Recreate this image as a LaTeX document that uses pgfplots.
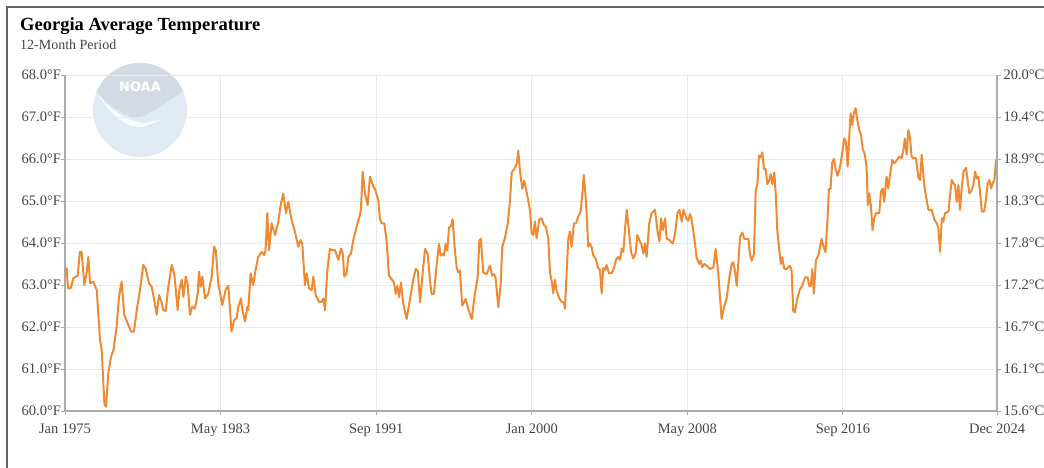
\documentclass[border=0pt]{standalone}
\usepackage{fontspec}
\setmainfont{Liberation Serif}
\newfontfamily\logofont{DejaVu Sans}
\usepackage{pgfplots}
\pgfplotsset{compat=1.18}
\usepackage{pgfplotstable}

\definecolor{lineorange}{RGB}{240,138,50}
\definecolor{gridgray}{RGB}{232,232,232}
\definecolor{axisgray}{RGB}{170,170,170}
\definecolor{labelgray}{RGB}{68,68,68}
\definecolor{bordergray}{RGB}{100,100,100}
\definecolor{logoblue}{RGB}{224,234,245}
\definecolor{logogray}{RGB}{212,218,228}

% month index since Jan 1975, 12-month average temperature (F)
\pgfplotstableread{
m t
0 63.20
1 63.40
2 62.92
3.6 62.92
5.4 63.16
6.9 63.20
8.1 63.21
9.6 63.79
10.7 63.79
12.4 63.00
13.9 63.28
15 63.67
16.1 63.04
18.2 63.08
20.4 62.88
22.5 61.69
23.6 61.45
25.3 60.18
26.4 60.10
27.8 60.90
29.6 61.29
31.1 61.45
33.2 62.01
34.7 62.72
36.4 63.08
38.1 62.29
40.3 62.09
42.4 61.89
44.3 61.89
46.1 62.40
48.2 62.88
50.3 63.48
51.8 63.40
54 63.04
55.7 62.96
57.2 62.68
58.9 62.29
60.4 62.76
61.7 62.64
63.2 62.40
64.7 62.38
66.4 62.96
68.6 63.48
70.3 63.24
72.4 62.40
73.5 62.88
75 63.12
76.1 62.72
77.6 63.20
78.8 63.04
80.3 62.29
81.8 62.48
83.5 62.44
85.3 62.80
86.1 63.32
87.2 62.96
88.3 63.20
90 62.68
92.1 62.80
94.3 63.20
95.8 63.91
96.9 63.83
98.5 63.04
101.1 62.52
103.2 62.88
105 62.98
107 61.89
108.8 62.17
110.3 62.21
111.4 62.48
113.1 62.68
114 62.40
115.7 62.13
117.2 62.48
117.8 62.40
119.3 63.28
121 63.00
122.5 63.36
124.2 63.67
126.4 63.79
128.1 63.71
128.9 63.83
130 64.71
131.1 63.83
132.8 64.47
135 64.19
137.1 64.51
138.6 64.90
140.3 65.18
142 64.71
143.5 64.98
145.6 64.55
147.8 64.27
149.9 63.91
151.4 64.07
152.5 63.99
154.2 63.00
155.3 63.28
156.8 62.92
158.5 62.88
159.6 63.20
161.1 62.76
163.2 62.60
164.9 62.60
166 62.68
167.1 62.40
168.6 63.36
170.3 63.87
171.4 63.83
173.5 63.83
175.7 63.60
177.4 63.87
178.5 63.75
179.5 63.20
181 63.28
182.1 63.67
183.8 63.75
185.3 64.07
187.4 64.39
189.6 64.67
190.2 64.79
191.3 65.70
192.8 65.18
194.5 64.90
196 65.58
198.2 65.34
199.2 65.29
201.4 65.01
202.4 64.57
203.5 64.47
205.2 64.47
206.7 64.06
208.2 63.22
209.9 63.14
211.4 63.06
212.5 62.79
213.6 62.98
214.7 62.71
215.9 63.06
217.4 62.55
219.6 62.19
221.7 62.67
223.9 63.14
225.4 63.38
226.7 63.34
228.2 62.59
229.9 63.30
231.4 63.86
233.1 63.74
234.6 63.10
235.6 62.79
237.1 62.79
238.9 63.50
240.4 63.98
241.4 63.70
242.7 63.74
243.6 63.70
244.6 63.98
245.7 63.82
246.8 64.37
248.1 64.41
249.1 64.57
250.6 63.82
251.7 63.42
252.8 63.30
253.8 63.34
255.3 62.51
257.5 62.67
259.2 62.43
261.4 62.19
263.1 62.71
265.2 63.18
266.3 64.06
267.3 64.10
268.8 63.30
271 63.26
273.1 63.46
274.6 63.22
275.7 63.26
276.7 63.18
278.5 62.47
280 63.02
281 63.90
282.8 64.13
284.5 64.45
286 65.01
287.1 65.68
288.8 65.76
290.3 65.88
291.3 66.20
292.4 65.72
293.9 65.29
295.2 65.48
296.7 65.21
298.9 64.77
299.9 64.23
301 64.19
302 64.51
303.1 64.11
304.8 64.56
306.3 64.59
307.8 64.43
309.1 64.39
310.6 64.11
311.7 63.28
312.7 63.12
313.8 62.80
314.9 63.12
315.9 62.88
317.7 62.68
319.2 62.60
320.7 62.58
321.3 62.44
322.4 63.28
323.4 64.07
324.5 64.27
325.6 63.91
327.1 64.47
328.4 64.47
329.9 64.63
331.4 64.75
332.7 65.26
333.4 65.62
334.8 65.02
336.3 63.91
337.3 63.99
338.4 63.91
339.5 63.71
341 63.63
342.7 63.40
343.8 63.36
344.9 62.80
345.9 63.40
347 63.36
348.1 63.48
349.6 63.28
351.3 63.28
352.8 63.40
354.1 63.60
355.6 63.67
356.7 63.60
357.8 63.87
358.8 63.79
359.9 64.31
361 64.79
362.5 64.27
363.8 63.79
365.2 63.63
366.7 63.75
367.8 64.19
369.1 64.07
370.6 63.95
371.7 63.75
372.7 63.99
373.8 63.67
375.5 64.47
377 64.71
379.2 64.79
380.7 64.31
382 64.03
383.1 64.59
384.2 64.31
385.7 64.59
386.7 64.11
388.4 64.07
390.6 63.99
392.1 64.23
393.6 64.71
394.9 64.79
396.4 64.51
397.5 64.79
399.5 64.57
400.6 64.53
401.7 64.69
402.7 64.57
403.8 64.29
404.9 63.98
405.9 63.66
407.5 63.50
408.5 63.58
409.6 63.42
410.9 63.50
412.4 63.46
414.5 63.38
416.7 63.42
418.2 63.86
419.9 63.26
422 62.19
423.8 62.51
425.2 62.67
427 63.18
428.5 63.50
429.5 63.54
430.6 63.34
431.7 62.98
432.7 63.50
433.8 64.13
435.3 64.25
436.6 64.10
439.2 64.10
440.2 63.74
441.3 63.58
442.8 63.74
443.9 65.25
445 65.40
446 66.08
447.1 66.04
448.2 66.16
449.2 65.76
450.3 65.76
451.4 65.40
452.5 65.48
453.5 65.64
454.6 65.40
455.9 65.68
456.9 65.09
457.8 64.29
459.1 63.82
460.1 63.50
461 63.66
462.3 63.38
463.8 63.38
465.9 63.46
467 63.34
468 62.39
469.1 62.35
470.6 62.67
472.3 62.90
473.8 62.98
475.6 63.18
477.3 63.18
478.3 62.98
479.4 62.98
480.3 63.38
481.3 62.79
482.6 63.58
484.1 63.70
485.2 63.90
486.3 64.10
487.3 63.94
488.8 63.78
490.1 64.61
491 65.29
492 65.29
493.1 65.92
494.2 66.00
495.3 65.76
496.5 65.60
498 65.78
499.8 66.21
500.9 66.49
501.9 66.41
503 65.82
504.1 66.57
504.9 67.09
506 66.81
507 67.09
508.1 67.21
509.2 66.93
510.5 66.69
511.6 66.57
512.6 66.25
514.1 66.10
515.2 65.78
516 64.90
516.9 65.18
518 64.87
519 64.31
520.1 64.59
521.2 64.71
523.3 64.71
524.4 65.22
525.5 65.30
526.5 64.98
528 65.58
529.1 65.30
530.2 65.62
531.7 65.98
533 65.90
534 65.94
535.5 66.02
536.6 66.06
537.7 66.02
538.8 66.21
539.8 66.49
540.9 66.10
542 66.69
543 66.53
544.1 66.06
545.2 66.02
546.9 66.02
548.4 65.58
549.5 65.50
550.6 66.10
552.1 65.42
553.4 65.10
554.9 64.79
557 64.79
558.8 64.55
560.3 64.47
561.3 64.35
562.4 63.79
563.5 64.59
564.5 64.51
565.6 64.71
567.8 64.75
568.8 65.14
569.9 65.50
571 65.42
572 65.38
573.1 64.98
574.2 65.38
575.2 64.79
576.3 65.30
577.4 65.70
579.1 65.79
580.2 65.46
581.2 65.18
582.3 65.22
583.8 65.38
584.9 65.70
586 65.54
587 65.58
588.1 65.22
589.2 64.75
590.7 64.75
591.7 64.98
593 65.42
594.1 65.50
595.2 65.30
596.2 65.42
597.3 65.50
598.4 65.98
599 66.00
}\gatemp

\pgfplotsset{
  noaastyle/.style={
    at={(65bp,-411bp)}, anchor=south west,
    scale only axis, width=932bp, height=336bp,
    xmin=0, xmax=599, ymin=60, ymax=68,
    ytick={60,61,62,63,64,65,66,67,68},
    tick align=outside,
    major tick length=4bp,
    tick style={axisgray, line width=1bp},
    axis line style={axisgray, line width=1.2bp},
    ticklabel style={font=\fontsize{14.5bp}{17bp}\selectfont, text=labelgray},
  }
}

\begin{document}
\begin{tikzpicture}
\path[use as bounding box] (0,0) rectangle (1044bp,-468bp);

% faded NOAA logo behind the plot
\begin{scope}
  \fill[logoblue] (140bp,-110bp) circle (47bp);
  \clip (140bp,-110bp) circle (47bp);
  \fill[logogray] (90bp,-50bp) -- (90bp,-87bp)
    .. controls (110bp,-105bp) and (125bp,-118bp) .. (137bp,-118bp)
    .. controls (150bp,-115bp) and (170bp,-100bp) .. (192bp,-85bp)
    -- (192bp,-50bp) -- cycle;
  \fill[white, opacity=0.85] (97bp,-93bp)
    .. controls (112bp,-118bp) and (128bp,-128bp) .. (143bp,-127bp)
    -- (163bp,-119bp) -- (145bp,-123bp)
    .. controls (128bp,-122bp) and (112bp,-112bp) .. (97bp,-93bp) -- cycle;
\end{scope}
\node[white, font=\logofont\bfseries\fontsize{13bp}{13bp}\selectfont] at (140bp,-87bp) {NOAA};

\begin{axis}[
  noaastyle,
  axis x line*=bottom, axis y line*=left,
  xmajorgrids, ymajorgrids,
  grid style={gridgray, line width=1bp},
  xtick={0,100,200,300,400,500,599},
  xticklabels={Jan 1975,May 1983,Sep 1991,Jan 2000,May 2008,Sep 2016,Dec 2024},
  xticklabel style={yshift=-5bp},
  yticklabel style={xshift=3.5bp},
  yticklabels={60.0°F,61.0°F,62.0°F,63.0°F,64.0°F,65.0°F,66.0°F,67.0°F,68.0°F},
]
\addplot[lineorange, line width=2bp, line join=round] table[x=m, y=t] {\gatemp};
\end{axis}

\begin{axis}[
  noaastyle,
  axis y line*=right, axis x line=none,
  yticklabel style={xshift=-1bp},
  yticklabels={15.6°C,16.1°C,16.7°C,17.2°C,17.8°C,18.3°C,18.9°C,19.4°C,20.0°C},
]
\addplot[draw=none] coordinates {(0,60) (599,68)};
\end{axis}

\draw[bordergray, line width=2bp] (7bp,-470bp) -- (7bp,-7bp) -- (1046bp,-7bp);
\node[anchor=base west, inner sep=0pt, font=\bfseries\fontsize{18.5bp}{20bp}\selectfont] at (20bp,-30bp) {Georgia Average Temperature};
\node[anchor=base west, inner sep=0pt, text=labelgray, font=\fontsize{14bp}{16bp}\selectfont] at (20bp,-49bp) {12-Month Period};
\end{tikzpicture}
\end{document}
